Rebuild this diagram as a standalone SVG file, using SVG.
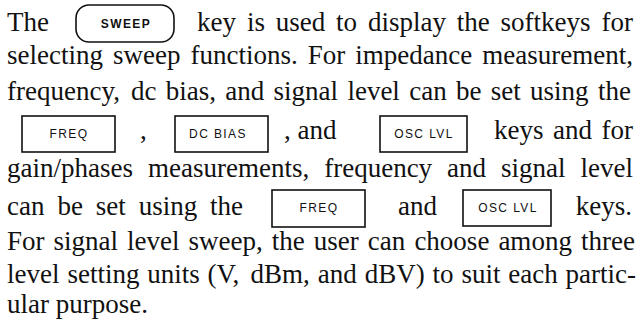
<svg xmlns="http://www.w3.org/2000/svg" width="641" height="321" viewBox="0 0 641 321">
<style>
.t{font-family:"Liberation Serif","Times New Roman",serif;font-size:27px;fill:#111}
.e{text-anchor:end}
.k{font-family:"Liberation Sans",Arial,sans-serif;font-size:12px;letter-spacing:1.4px;fill:#111;text-anchor:middle}
.b{fill:#fff;stroke:#111;stroke-width:1.6}
</style>
<rect width="641" height="321" fill="#fff"/>
<g id="paragraph">
<text class="t" y="31"><tspan x="7">The</tspan><tspan x="197">key</tspan><tspan x="246.9">is</tspan><tspan x="275.7">used</tspan><tspan x="336.1">to</tspan><tspan x="367.9">display</tspan><tspan x="456.8">the</tspan><tspan x="500.6">softkeys</tspan><tspan x="633" class="e">for</tspan></text>
<text class="t" y="64"><tspan x="7">selecting</tspan><tspan x="113">sweep</tspan><tspan x="190.5">functions.</tspan><tspan x="307.7">For</tspan><tspan x="355.2">impedance</tspan><tspan x="633" class="e">measurement,</tspan></text>
<text class="t" y="100"><tspan x="7">frequency,</tspan><tspan x="131">dc</tspan><tspan x="165.8">bias,</tspan><tspan x="225.3">and</tspan><tspan x="273.6">signal</tspan><tspan x="347.4">level</tspan><tspan x="409.2">can</tspan><tspan x="456">be</tspan><tspan x="490.8">set</tspan><tspan x="530.1">using</tspan><tspan x="631" class="e">the</tspan></text>
<text class="t" y="139"><tspan x="140">,</tspan><tspan x="284">,</tspan><tspan x="297.5">and</tspan><tspan x="494">keys</tspan><tspan x="553">and</tspan><tspan x="633" class="e">for</tspan></text>
<text class="t" y="177"><tspan x="7">gain/phases</tspan><tspan x="148">measurements,</tspan><tspan x="324.2">frequency</tspan><tspan x="447.1">and</tspan><tspan x="501.1">signal</tspan><tspan x="633" class="e">level</tspan></text>
<text class="t" y="215"><tspan x="7">can</tspan><tspan x="57.4">be</tspan><tspan x="95.8">set</tspan><tspan x="138.7">using</tspan><tspan x="243" class="e">the</tspan><tspan x="398">and</tspan><tspan x="632" class="e">keys.</tspan></text>
<text class="t" y="250"><tspan x="7">For</tspan><tspan x="53.5">signal</tspan><tspan x="127">level</tspan><tspan x="188.6">sweep,</tspan><tspan x="271.8">the</tspan><tspan x="313.8">user</tspan><tspan x="367.8">can</tspan><tspan x="414.4">choose</tspan><tspan x="498.4">among</tspan><tspan x="635" class="e">three</tspan></text>
<text class="t" y="283"><tspan x="7">level</tspan><tspan x="67.4">setting</tspan><tspan x="147.2">units</tspan><tspan x="207.6">(V,</tspan><tspan x="250.6">dBm,</tspan><tspan x="317.8">and</tspan><tspan x="364.7">dBV)</tspan><tspan x="432.5">to</tspan><tspan x="461.4">suit</tspan><tspan x="508.2">each</tspan><tspan x="636" class="e">partic-</tspan></text>
<text class="t" x="7" y="313">ular purpose.</text>
</g>
<g id="key-sweep">
<rect class="b" x="76" y="5" width="98" height="37" rx="13"/>
<text class="k" x="126" y="28" font-weight="bold" font-size="11.5">SWEEP</text>
</g>
<g id="key-freq-1">
<rect class="b" x="22" y="116" width="93" height="36"/>
<text class="k" x="69" y="138">FREQ</text>
</g>
<g id="key-dcbias">
<rect class="b" x="175" y="116" width="93" height="36"/>
<text class="k" x="218" y="138">DC BIAS</text>
</g>
<g id="key-osclvl-1">
<rect class="b" x="380" y="116" width="87" height="36"/>
<text class="k" x="424" y="138">OSC LVL</text>
</g>
<g id="key-freq-2">
<rect class="b" x="272" y="190" width="93" height="37"/>
<text class="k" x="319" y="212">FREQ</text>
</g>
<g id="key-osclvl-2">
<rect class="b" x="463" y="190" width="88" height="36"/>
<text class="k" x="508" y="212">OSC LVL</text>
</g>
<g id="connectors"></g>
</svg>
